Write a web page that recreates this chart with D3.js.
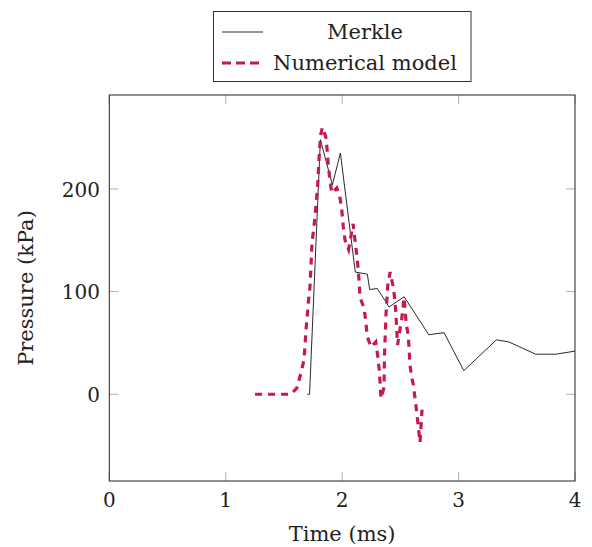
<!DOCTYPE html>
<html lang="en">
  <head>
    <meta charset="UTF-8" />
    <title>pressure</title>
    <script src="https://cdn.jsdelivr.net/npm/d3@7/dist/d3.min.js"></script>
    <style>
      body { margin: 0; background: #fff; }
      text { font-family: "DejaVu Serif", serif; fill: #222; }
    </style>
  </head>
  <body>
    <div id="wrapper"></div>
    <script>
      // Merkle measurements [time ms, pressure kPa]
      const merkle = [
        [1.70, 0], [1.72, 0], [1.813, 248], [1.916, 204], [1.985, 235],
        [2.113, 119], [2.216, 117], [2.237, 102], [2.302, 103], [2.403, 85],
        [2.532, 95], [2.744, 58], [2.875, 60], [3.045, 23], [3.325, 53],
        [3.431, 51], [3.663, 39], [3.835, 39], [4.0, 42],
      ];
      // numerical model
      const numerical = [
        [1.252, 0], [1.561, 0], [1.61, 6], [1.647, 21], [1.673, 34],
        [1.69, 63], [1.71, 90], [1.724, 105], [1.741, 147], [1.767, 173],
        [1.789, 202], [1.802, 230], [1.814, 252], [1.83, 260], [1.859, 251],
        [1.873, 236], [1.881, 223], [1.896, 208], [1.911, 196], [1.954, 201],
        [1.982, 191], [1.997, 179], [2.01, 163], [2.025, 150], [2.055, 141],
        [2.094, 166], [2.125, 136], [2.139, 121], [2.154, 94], [2.188, 84],
        [2.203, 71], [2.216, 56], [2.248, 46], [2.289, 51], [2.306, 37],
        [2.32, 22], [2.334, -4], [2.36, 7], [2.363, 36], [2.373, 66],
        [2.377, 79], [2.392, 106], [2.412, 119], [2.44, 104], [2.455, 90],
        [2.463, 75], [2.476, 48], [2.512, 74], [2.532, 94], [2.549, 70],
        [2.569, 56], [2.583, 28], [2.598, 16], [2.612, 9], [2.641, -18],
        [2.669, -47], [2.686, -15],
      ];
      const xTicks = [0, 1, 2, 3, 4];
      const yTicks = [0, 100, 200];
      const seriesNames = ["Merkle", "Numerical model"];

      const width = 592, height = 547;
      const plot = { left: 109.3, right: 575, top: 95, bottom: 481 };
      const red = "#c51b4b";

      const svg = d3.select("#wrapper").append("svg")
        .attr("width", width).attr("height", height);

      const x = d3.scaleLinear().domain([0, 4]).range([plot.left, plot.right]);
      const y = d3.scaleLinear().domain([-84.5, 291.5]).range([plot.bottom, plot.top]);

      // inward ticks on all four sides
      const tick = 9;
      const ticks = svg.append("g").attr("stroke", "#9a9a9a").attr("stroke-width", 0.8);
      xTicks.forEach(t => {
        ticks.append("line").attr("x1", x(t)).attr("x2", x(t))
          .attr("y1", plot.bottom).attr("y2", plot.bottom - tick);
        ticks.append("line").attr("x1", x(t)).attr("x2", x(t))
          .attr("y1", plot.top).attr("y2", plot.top + tick);
      });
      yTicks.forEach(t => {
        ticks.append("line").attr("y1", y(t)).attr("y2", y(t))
          .attr("x1", plot.left).attr("x2", plot.left + tick);
        ticks.append("line").attr("y1", y(t)).attr("y2", y(t))
          .attr("x1", plot.right).attr("x2", plot.right - tick);
      });

      svg.selectAll(".xl").data(xTicks).join("text")
        .attr("x", d => x(d)).attr("y", 507)
        .attr("text-anchor", "middle").attr("font-size", 20)
        .text(d => d);
      svg.selectAll(".yl").data(yTicks).join("text")
        .attr("x", 100).attr("y", d => y(d)).attr("dy", "0.38em")
        .attr("text-anchor", "end").attr("font-size", 20)
        .text(d => d);

      const line = d3.line().x(d => x(d[0])).y(d => y(d[1]));

      svg.append("path").attr("d", line(merkle))
        .attr("fill", "none").attr("stroke", "#111").attr("stroke-width", 0.9);
      svg.append("path").attr("d", line(numerical))
        .attr("fill", "none").attr("stroke", red).attr("stroke-width", 3.2)
        .attr("stroke-dasharray", "7,6");

      // frame
      svg.append("rect")
        .attr("x", plot.left).attr("y", plot.top)
        .attr("width", plot.right - plot.left).attr("height", plot.bottom - plot.top)
        .attr("fill", "none").attr("stroke", "#222").attr("stroke-width", 1);

      svg.append("text").attr("x", (plot.left + plot.right) / 2).attr("y", 541)
        .attr("text-anchor", "middle").attr("font-size", 21).text("Time (ms)");
      svg.append("text")
        .attr("transform", `translate(33,${(plot.top + plot.bottom) / 2}) rotate(-90)`)
        .attr("text-anchor", "middle").attr("font-size", 21).text("Pressure (kPa)");

      // legend
      const lg = svg.append("g");
      lg.append("rect").attr("x", 213.5).attr("y", 11.5).attr("width", 257.5).attr("height", 70)
        .attr("fill", "#fff").attr("stroke", "#333").attr("stroke-width", 1);
      lg.append("line").attr("x1", 222).attr("x2", 263).attr("y1", 32).attr("y2", 32)
        .attr("stroke", "#111").attr("stroke-width", 0.9);
      lg.append("line").attr("x1", 222).attr("x2", 263).attr("y1", 63).attr("y2", 63)
        .attr("stroke", red).attr("stroke-width", 3.2).attr("stroke-dasharray", "9,5");
      lg.selectAll(".lt").data(seriesNames).join("text")
        .attr("x", 365).attr("y", (d, i) => 38.5 + i * 31)
        .attr("text-anchor", "middle").attr("font-size", 21)
        .text(d => d);
    </script>
  </body>
</html>
